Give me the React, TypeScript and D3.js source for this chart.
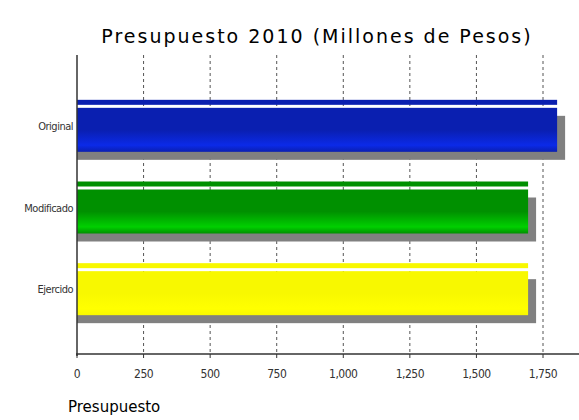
import * as d3 from 'd3';

const categories = ['Original', 'Modificado', 'Ejercido'];
const values = [1803, 1694, 1694];
const colors = [
  ['#0a1fb0', '#0b2ae8'],
  ['#009000', '#00d000'],
  ['#f8f800', '#ffff00'],
];
const ticks = [0, 250, 500, 750, 1000, 1250, 1500, 1750];

export default function App() {
  const W = 579, H = 420;
  const x = d3.scaleLinear().domain([0, 1750]).range([77, 543]);
  const y = d3.scaleBand().domain(categories).range([89, 334]);
  const fmt = d3.format(',');
  return (
    <svg width={W} height={H} style={{ position: 'absolute', left: 0, top: 0, background: '#fff' }}>
      <defs>
        {colors.map((c, i) => (
          <linearGradient key={i} id={'g' + i} x1="0" y1="0" x2="0" y2="1">
            <stop offset="0" stopColor={c[0]} />
            <stop offset="0.5" stopColor={c[0]} />
            <stop offset="0.85" stopColor={c[1]} />
            <stop offset="1" stopColor={c[0]} />
          </linearGradient>
        ))}
      </defs>
      <text x={317} y={43} textAnchor="middle" fontFamily="DejaVu Sans" fontSize={19} letterSpacing={2}>
        Presupuesto 2010 (Millones de Pesos)
      </text>
      {ticks.slice(1).map(t => (
        <line key={t} x1={x(t)} x2={x(t)} y1={55} y2={354} stroke="#555" strokeDasharray="3,3" />
      ))}
      {categories.map((c, i) => {
        const mid = y(c)! + y.bandwidth() / 2;
        const mh = 44, top = mid - mh / 2;
        const w = x(values[i]) - x(0);
        return (
          <g key={c}>
            <rect x={x(0)} y={top + 8} width={w + 8} height={mh} fill="#808080" />
            <rect x={x(0)} y={top - 8} width={w} height={5} fill={colors[i][0]} />
            <rect x={x(0)} y={top} width={w} height={mh} fill={`url(#g${i})`} />
            <text x={73} y={mid} textAnchor="end" fontFamily="Liberation Sans Narrow, DejaVu Sans Condensed" fontSize={11} fill="#333" letterSpacing={-0.5}>
              {c}
            </text>
          </g>
        );
      })}
      <line x1={77} x2={77} y1={55} y2={356} stroke="#333" strokeWidth={1.5} />
      <line x1={76} x2={579} y1={354} y2={354} stroke="#333" strokeWidth={1.5} />
      {ticks.map(t => (
        <g key={t}>
          <line x1={x(t)} x2={x(t)} y1={354} y2={358} stroke="#333" />
          <text x={x(t)} y={378} textAnchor="middle" fontFamily="Liberation Sans Narrow, DejaVu Sans Condensed" fontSize={12} fill="#333" letterSpacing={-0.5}>
            {fmt(t)}
          </text>
        </g>
      ))}
      <text x={68} y={412} fontFamily="DejaVu Sans" fontSize={15}>Presupuesto</text>
    </svg>
  );
}
